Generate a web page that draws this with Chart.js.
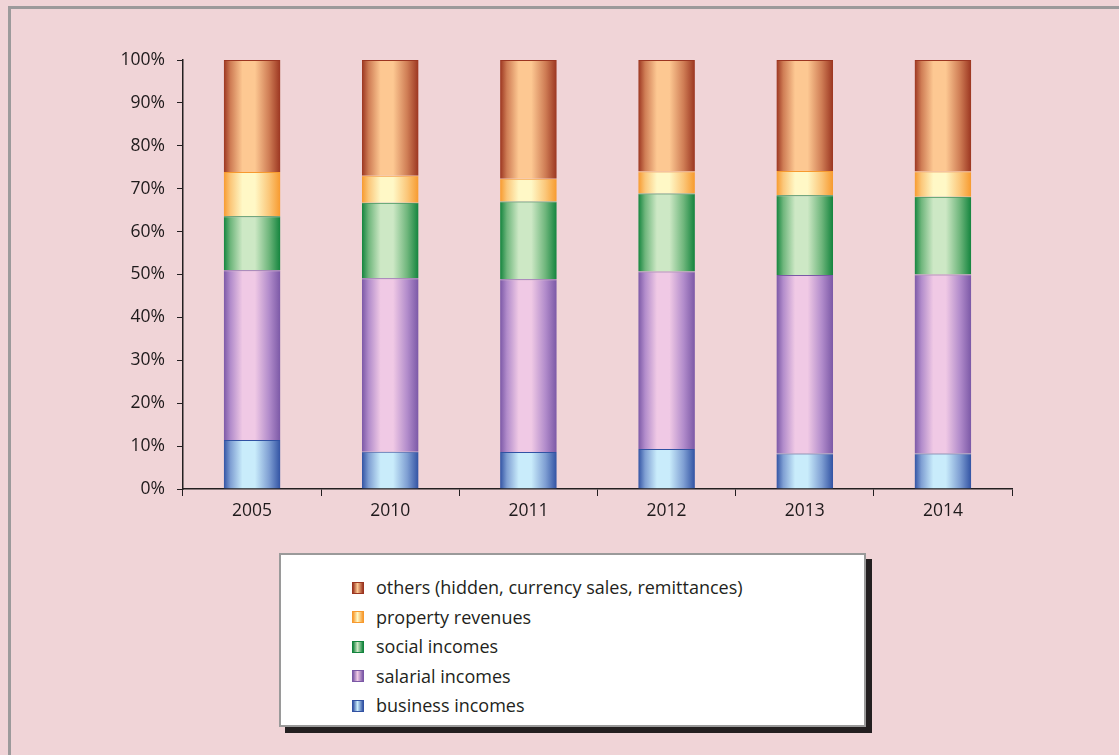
<!DOCTYPE html>
<html>
<head>
<meta charset="utf-8">
<script src="https://cdn.jsdelivr.net/npm/chart.js@4/dist/chart.umd.min.js"></script>
<style>
  html, body { margin: 0; padding: 0; background: #f0d4d7; }
  body { width: 1119px; height: 755px; position: relative; overflow: hidden; font-family: "Open Sans", Lato, sans-serif; }
  #frame { position: absolute; left: 8px; top: 6px; width: 1200px; height: 800px; border-left: 3px solid #9c9a9b; border-top: 3px solid #9c9a9b; box-sizing: border-box; }
  #chart { position: absolute; left: 0; top: 0; }
  #legend { position: absolute; left: 279px; top: 553px; width: 587px; height: 174px; box-sizing: border-box;
            background: #fff; border: 2px solid #9a9a9a; box-shadow: 6px 6px 0 #231f20; }
  #legend ul { list-style: none; margin: 0; padding: 18px 0 0 71px; }
  #legend li { height: 29.5px; line-height: 29.5px; font-size: 18px; color: #231f20; display: flex; align-items: center; }
  #legend .mark { width: 10px; height: 10px; margin-right: 12px; box-sizing: content-box; border: 1px solid; }
</style>
</head>
<body>
<div id="frame"></div>
<canvas id="chart" width="1119" height="545"></canvas>
<div id="legend"></div>
<script>
// ── Data (% of household incomes) ──────────────────────────────────
const years = ["2005", "2010", "2011", "2012", "2013", "2014"];
const business = [11.4, 8.7, 8.6, 9.3, 8.3, 8.3];
const salarial = [39.6, 40.4, 40.3, 41.4, 41.6, 41.7];
const social   = [12.6, 17.6, 18.1, 18.2, 18.6, 18.1];
const property = [10.3, 6.3, 5.3, 5.1, 5.6, 5.9];
const others   = [26.1, 27.0, 27.7, 26.0, 25.9, 26.0];
const yTicks = [0, 10, 20, 30, 40, 50, 60, 70, 80, 90, 100];

const BAR_PCT = 0.41;

// cylinder-like shading: dark edges, light band a bit left of centre
function barGradient(dark, light, mid) {
  return function (context) {
    const chart = context.chart;
    const xs = chart.scales.x;
    if (!chart.chartArea || !xs) return dark;
    const W = chart.width;
    const g = chart.ctx.createLinearGradient(0, 0, W, 0);
    const half = (xs.width / years.length) * BAR_PCT / 2;
    const stops = [[0, dark], [0.12, mid], [0.33, light], [0.55, light], [0.8, mid], [1, dark]];
    years.forEach(function (y, i) {
      const cx = xs.getPixelForValue(i);
      stops.forEach(function (s) {
        const px = cx - half + s[0] * 2 * half;
        g.addColorStop(Math.min(1, Math.max(0, px / W)), s[1]);
      });
    });
    return g;
  };
}

function makeSet(label, data, dark, light, mid) {
  return {
    label: label,
    data: data,
    backgroundColor: barGradient(dark, light, mid),
    borderColor: dark,
    borderWidth: { top: 1, left: 0, right: 0, bottom: 0 },
    borderSkipped: false,
    dark: dark,
    light: light,
  };
}

const chart = new Chart(document.getElementById("chart"), {
  type: "bar",
  data: {
    labels: years,
    datasets: [
      makeSet("business incomes", business, "#3152a3", "#c9ecfb", "#7f9fd3"),
      makeSet("salarial incomes", salarial, "#7b58a6", "#f0c9e5", "#b28ccb"),
      makeSet("social incomes", social, "#13843d", "#cde8c5", "#6fb67c"),
      makeSet("property revenues", property, "#f79a2e", "#fff8c6", "#fbc77a"),
      makeSet("others (hidden, currency sales, remittances)", others, "#9b3520", "#fdc892", "#cf7d55"),
    ],
  },
  options: {
    responsive: false,
    animation: false,
    datasets: { bar: { categoryPercentage: 1, barPercentage: BAR_PCT } },
    layout: { padding: { left: 0, top: 60, right: 107, bottom: 0 } },
    plugins: { legend: { display: false }, tooltip: { enabled: false } },
    scales: {
      x: {
        stacked: true,
        grid: { offset: true, drawOnChartArea: false, drawTicks: true, tickLength: 7, color: "#231f20" },
        border: { display: true, color: "#231f20", width: 1.5 },
        ticks: { color: "#1e1a1b", font: { family: "Open Sans", size: 17.5 }, padding: 5 },
        afterFit: function (scale) { scale.height = 56; },
      },
      y: {
        stacked: true,
        min: 0,
        max: 100,
        afterBuildTicks: function (scale) { scale.ticks = yTicks.map(function (v) { return { value: v }; }); },
        grid: { drawOnChartArea: false, drawTicks: true, tickLength: 6, color: "#231f20" },
        border: { display: true, color: "#231f20", width: 1.5 },
        ticks: {
          color: "#1e1a1b",
          font: { family: "Open Sans", size: 17.5 },
          padding: 12,
          callback: function (v) { return v + "%"; },
        },
        afterFit: function (scale) { scale.width = 183; },
      },
    },
  },
});

// ── HTML legend built from the chart's datasets (top series first) ──
const ul = document.createElement("ul");
chart.data.datasets.slice().reverse().forEach(function (ds) {
  const li = document.createElement("li");
  const mark = document.createElement("span");
  mark.className = "mark";
  mark.style.borderColor = ds.dark;
  mark.style.background = "linear-gradient(to right, " + ds.dark + ", " + ds.light + " 45%, " + ds.dark + ")";
  li.appendChild(mark);
  li.appendChild(document.createTextNode(ds.label));
  ul.appendChild(li);
});
document.getElementById("legend").appendChild(ul);
</script>
</body>
</html>
